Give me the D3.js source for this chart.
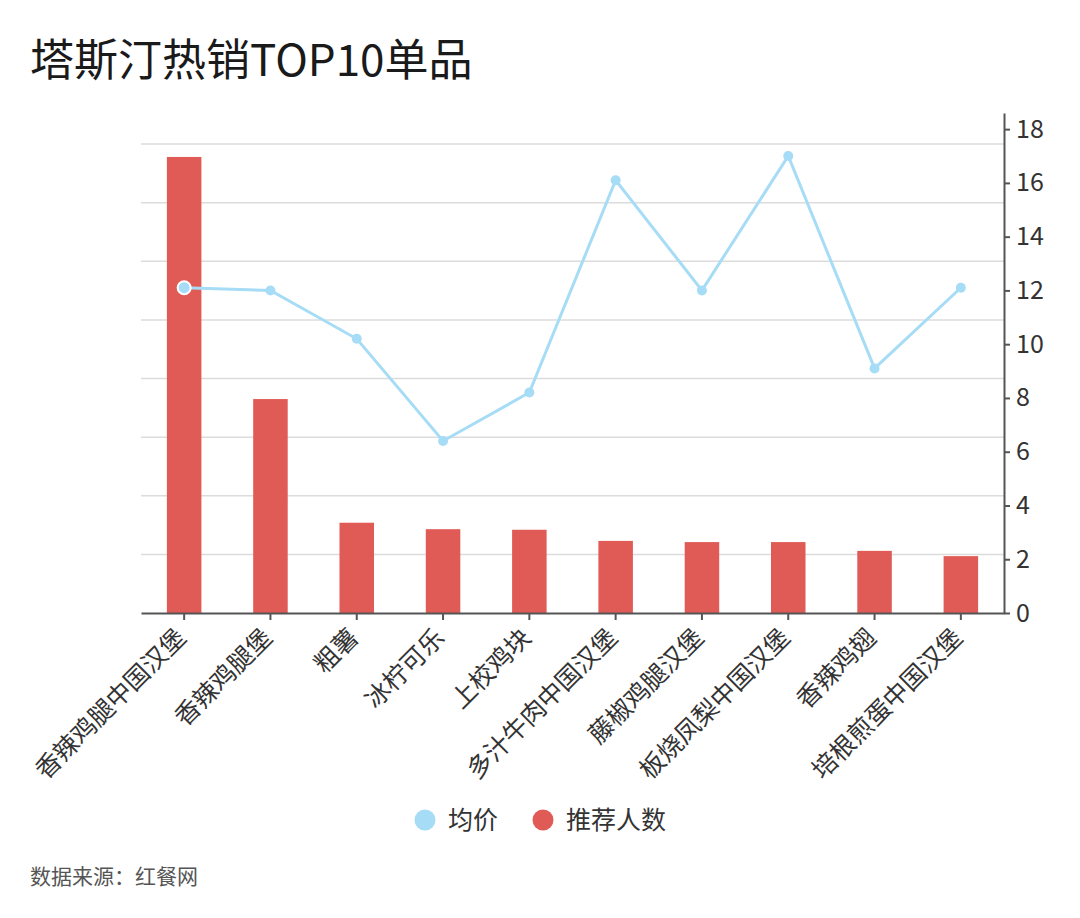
<!DOCTYPE html>
<html>
<head>
<meta charset="utf-8">
<script src="https://cdn.jsdelivr.net/npm/d3@7"></script>
<style>
  body { margin: 0; background: #fff; }
  text { font-family: "Noto Sans CJK SC", "Noto Sans", sans-serif; }
</style>
</head>
<body>
<svg id="drawing_region"></svg>
<script>
// 商品名称
const categories = ["香辣鸡腿中国汉堡", "香辣鸡腿堡", "粗薯", "冰柠可乐", "上校鸡块",
                    "多汁牛肉中国汉堡", "藤椒鸡腿汉堡", "板烧凤梨中国汉堡", "香辣鸡翅", "培根煎蛋中国汉堡"];
// 推荐人数 (左轴不显示刻度)
const recommend = [7780, 3650, 1540, 1430, 1420, 1230, 1210, 1210, 1060, 970];
// 均价 (右轴)
const avgPrice = [12.1, 12.0, 10.2, 6.4, 8.2, 16.1, 12.0, 17.0, 9.1, 12.1];
const priceTicks = [0, 2, 4, 6, 8, 10, 12, 14, 16, 18];
const gridTicks = [1000, 2000, 3000, 4000, 5000, 6000, 7000, 8000];

const config = {
    width: 1080,
    height: 918,
    margin: {top: 113, right: 76, bottom: 305, left: 141}
};

const barColor = "#e15b56";
const lineColor = "#a6dcf5";

const svg = d3.select("#drawing_region")
    .attr("width", config.width)
    .attr("height", config.height);

const inner_width = config.width - config.margin.left - config.margin.right;
const inner_height = config.height - config.margin.top - config.margin.bottom;

const chart = svg.append("g")
    .attr("transform", `translate(${config.margin.left}, ${config.margin.top})`);

const x = d3.scaleBand()
    .domain(categories)
    .range([0, inner_width])
    .paddingInner(0.6)
    .paddingOuter(0.3);

const yLeft = d3.scaleLinear()
    .domain([0, 8530])
    .range([inner_height, 0]);

const yRight = d3.scaleLinear()
    .domain([0, 18.6])
    .range([inner_height, 0]);

// grid lines
chart.append("g")
    .selectAll("line")
    .data(gridTicks)
    .join("line")
    .attr("x1", 0)
    .attr("x2", inner_width)
    .attr("y1", d => yLeft(d))
    .attr("y2", d => yLeft(d))
    .attr("stroke", "#dcdcdc")
    .attr("stroke-width", 1.5);

// bars
chart.append("g")
    .selectAll("rect")
    .data(categories)
    .join("rect")
    .attr("x", d => x(d))
    .attr("width", x.bandwidth())
    .attr("y", (d, i) => yLeft(recommend[i]))
    .attr("height", (d, i) => inner_height - yLeft(recommend[i]))
    .attr("fill", barColor);

// x axis
const xAxis = chart.append("g")
    .attr("transform", `translate(0, ${inner_height})`)
    .call(d3.axisBottom(x).tickSize(7).tickSizeOuter(0));
xAxis.select(".domain").attr("stroke", "#555").attr("stroke-width", 2);
xAxis.selectAll(".tick line").attr("stroke", "#555").attr("stroke-width", 2);
xAxis.selectAll(".tick text")
    .attr("font-size", "25px")
    .attr("fill", "#333")
    .attr("text-anchor", "end")
    .attr("dy", "0.35em")
    .attr("transform", "translate(-3, 20) rotate(-45)")
    .attr("x", 0)
    .attr("y", 0);

// right axis
const rAxis = chart.append("g")
    .attr("transform", `translate(${inner_width}, 0)`)
    .call(d3.axisRight(yRight).tickValues(priceTicks).tickSize(6).tickPadding(6).tickSizeOuter(0));
rAxis.select(".domain").attr("stroke", "#555").attr("stroke-width", 2);
rAxis.selectAll(".tick line").attr("stroke", "#555").attr("stroke-width", 2);
rAxis.selectAll(".tick text")
    .attr("font-size", "25px")
    .attr("fill", "#333");

// line
const cx = d => x(d) + x.bandwidth() / 2;
const line = d3.line()
    .x((d, i) => cx(categories[i]))
    .y(d => yRight(d));

chart.append("path")
    .datum(avgPrice)
    .attr("d", line)
    .attr("fill", "none")
    .attr("stroke", lineColor)
    .attr("stroke-width", 3);

chart.append("g")
    .selectAll("circle")
    .data(avgPrice)
    .join("circle")
    .attr("cx", (d, i) => cx(categories[i]))
    .attr("cy", d => yRight(d))
    .attr("r", (d, i) => i === 0 ? 6.5 : 5)
    .attr("fill", lineColor)
    .attr("stroke", (d, i) => i === 0 ? "#fff" : "none")
    .attr("stroke-width", 2);

// title
svg.append("text")
    .attr("x", 30)
    .attr("y", 76)
    .attr("font-size", "44px")
    .attr("fill", "#1a1a1a")
    .text("塔斯汀热销TOP10单品");

// legend
const legendItems = [
    {label: "均价", color: lineColor, x: 425},
    {label: "推荐人数", color: barColor, x: 543}
];
const legend = svg.append("g");
legendItems.forEach(item => {
    legend.append("circle")
        .attr("cx", item.x)
        .attr("cy", 820)
        .attr("r", 10.5)
        .attr("fill", item.color);
    legend.append("text")
        .attr("x", item.x + 23)
        .attr("y", 820)
        .attr("dy", "0.35em")
        .attr("font-size", "25px")
        .attr("fill", "#333")
        .text(item.label);
});

// source
svg.append("text")
    .attr("x", 30)
    .attr("y", 884)
    .attr("font-size", "21px")
    .attr("fill", "#555")
    .text("数据来源：红餐网");
</script>
</body>
</html>
